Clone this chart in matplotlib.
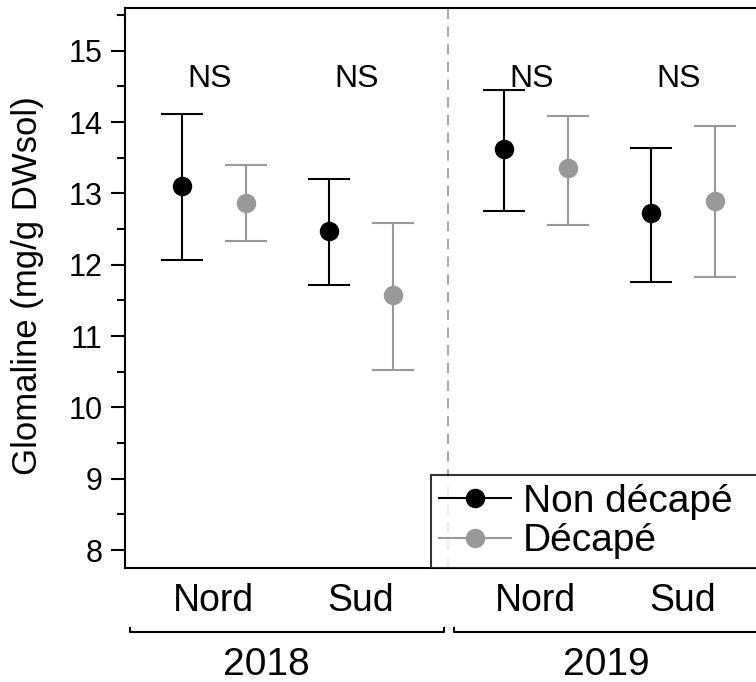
import numpy as np
import matplotlib.pyplot as plt

plt.rcParams['font.family'] = ['Liberation Sans', 'DejaVu Sans']

# data
sites = ["Nord", "Sud", "Nord", "Sud"]
years = ["2018", "2019"]
x_pos = np.array([0, 1, 2.19, 3.19])

non_decape = np.array([13.11, 12.48, 13.63, 12.73])
non_decape_hi = np.array([14.12, 13.20, 14.45, 13.64])
non_decape_lo = np.array([12.07, 11.71, 12.76, 11.76])

decape = np.array([12.87, 11.58, 13.35, 12.90])
decape_hi = np.array([13.40, 12.59, 14.08, 13.94])
decape_lo = np.array([12.34, 10.52, 12.56, 11.83])

signif = ["NS", "NS", "NS", "NS"]

off = 0.22
grey = "#999999"

fig = plt.figure(figsize=(7.56, 6.82), dpi=100)
ax = fig.add_axes([0.1653, 0.1672, 1.01 - 0.1653, 0.8211])

ax.errorbar(x_pos - off, non_decape,
            yerr=[non_decape - non_decape_lo, non_decape_hi - non_decape],
            fmt='o', color='black', ms=13, elinewidth=1.5, capsize=15, capthick=1.5)
ax.errorbar(x_pos + off, decape,
            yerr=[decape - decape_lo, decape_hi - decape],
            fmt='o', color=grey, ms=13, elinewidth=1.5, capsize=15, capthick=1.5)

# legend handles
ax.plot([], [], '-o', color='black', ms=13, lw=1.5, label="Non décapé")
ax.plot([], [], '-o', color=grey, ms=13, lw=1.5, label="Décapé")

for xi, s in zip(x_pos, signif):
    ax.text(xi - 0.03, 14.6, s, ha='center', va='center', fontsize=23)

mid = (x_pos[1] + x_pos[2]) / 2
ax.axvline(mid, color='#aaaaaa', lw=1.5, ls=(0, (5, 3.5)), zorder=0)

ax.set_xlim(-0.605, 3.739)
ax.set_ylim(7.75, 15.6)
ax.set_yticks(np.arange(8, 16, 1))
ax.set_yticks(np.arange(8.5, 15.6, 1), minor=True)
ax.set_xticks(x_pos)
ax.set_xticklabels(sites)
ax.tick_params(axis='x', length=0, labelsize=27, pad=11)
ax.tick_params(axis='y', which='major', length=10, width=1.5, labelsize=22, pad=6)
ax.tick_params(axis='y', which='minor', length=6, width=1.5)
for sp in ax.spines.values():
    sp.set_linewidth(1.5)
ax.set_ylabel("Glomaline (mg/g DWsol)", fontsize=25)
ax.yaxis.set_label_coords(-0.127, 0.505)

# year brackets under the axis
tr = ax.get_xaxis_transform()
yb = -0.114
groups = [(x_pos[0] - 0.57, mid - 0.03), (mid + 0.04, 3.9)]
for (a, b), yr in zip(groups, years):
    ax.plot([a, a, b, b], [yb + 0.007, yb, yb, yb + 0.007], color='black', lw=1.5,
            transform=tr, clip_on=False)
xc = [(x_pos[0] + x_pos[1]) / 2 - 0.14, (x_pos[2] + x_pos[3]) / 2 - 0.02]
for xi, yr in zip(xc, years):
    ax.text(xi, -0.191, yr, ha='center', va='baseline', fontsize=28, transform=tr)

leg = ax.legend(loc='lower left', bbox_to_anchor=(0.479, 0.0, 0.6, 0.17),
                mode='expand', borderaxespad=0,
                fontsize=28, frameon=True, fancybox=False, handlelength=1.85,
                handletextpad=0.3, borderpad=0.22, labelspacing=0.1)
leg.get_frame().set_edgecolor('black')
leg.get_frame().set_linewidth(1.5)

fig.savefig("out.png", dpi=100)
